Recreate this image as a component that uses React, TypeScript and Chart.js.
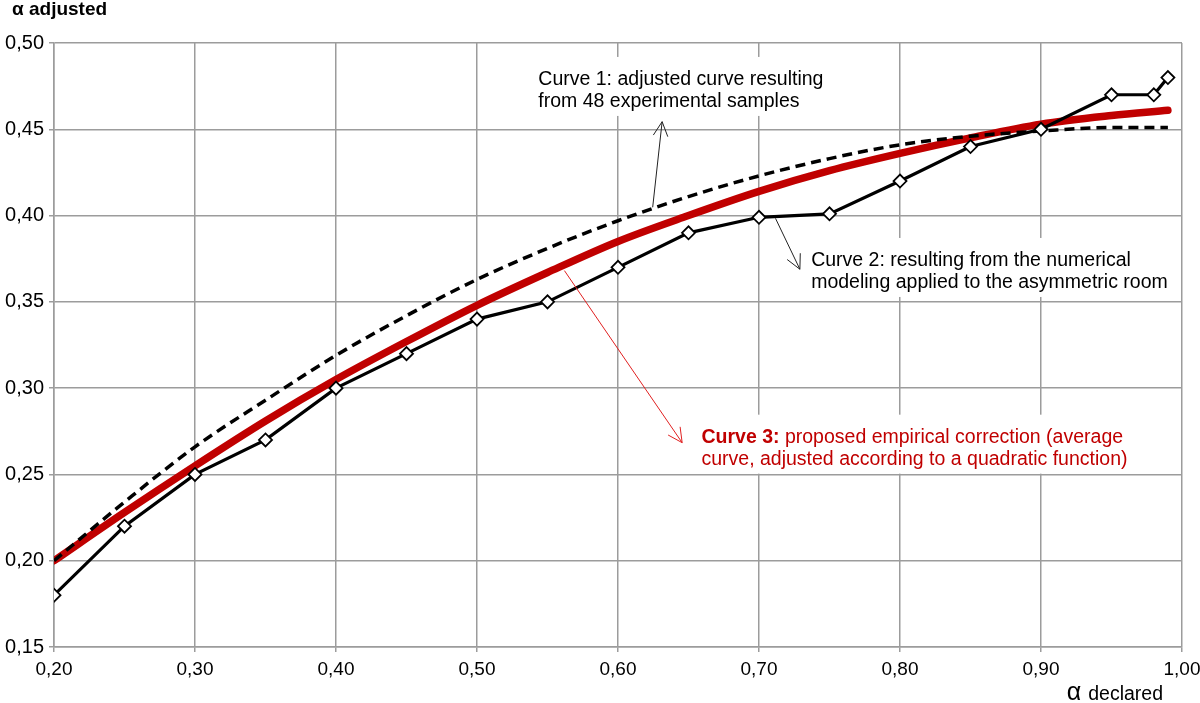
import React, { useEffect, useRef } from "react";
import { Chart, registerables } from "chart.js";

Chart.register(...registerables);

// ---- Data ----
const xCurve2 = [0.2, 0.25, 0.3, 0.35, 0.4, 0.45, 0.5, 0.55, 0.6, 0.65, 0.7, 0.75, 0.8, 0.85, 0.9, 0.95, 0.98, 0.99];
const yCurve2 = [0.18, 0.22, 0.25, 0.27, 0.3, 0.32, 0.34, 0.35, 0.37, 0.39, 0.399, 0.401, 0.42, 0.44, 0.45, 0.47, 0.47, 0.48];

const xFit = [0.2, 0.25, 0.3, 0.35, 0.4, 0.45, 0.5, 0.55, 0.6, 0.65, 0.7, 0.75, 0.8, 0.85, 0.9, 0.95, 0.99];
const yCurve1 = [0.2, 0.234, 0.266, 0.293, 0.319, 0.342, 0.363, 0.381, 0.397, 0.411, 0.423, 0.433, 0.441, 0.446, 0.449, 0.451, 0.451];
const yCurve3 = [0.2, 0.228, 0.255, 0.281, 0.305, 0.327, 0.348, 0.367, 0.385, 0.4, 0.414, 0.426, 0.436, 0.445, 0.453, 0.458, 0.461];

const xTickValues = [0.2, 0.3, 0.4, 0.5, 0.6, 0.7, 0.8, 0.9, 1.0];
const yTickValues = [0.15, 0.2, 0.25, 0.3, 0.35, 0.4, 0.45, 0.5];

const yAxisTitle = "α adjusted";
const xAxisTitleSymbol = "α";
const xAxisTitleWord = "declared";

const note1Lines = ["Curve 1: adjusted curve resulting", "from 48 experimental samples"];
const note2Lines = ["Curve 2: resulting from the numerical", "modeling applied to the asymmetric room"];
const note3Bold = "Curve 3:";
const note3Lines = [" proposed empirical correction (average", "curve, adjusted according to a quadratic function)"];

// annotation anchors in data units: [x, y]
const note1Anchor = [0.5435, 0.4757];
const note2Anchor = [0.737, 0.3708];
const note3Anchor = [0.6592, 0.2684];
const arrow1 = [[0.6246, 0.4048], [0.6313, 0.4544]];
const arrow2 = [[0.7117, 0.3984], [0.729, 0.3689]];
const arrow3 = [[0.562, 0.3681], [0.6455, 0.2684]];

const FONT = "'Liberation Sans', Arial, Helvetica, sans-serif";
const RED = "#c00000";
const GRID = "#9c9c9c";

function fmt(v: number) {
  return Number(v).toFixed(2).replace(".", ",");
}

const notesPlugin = {
  id: "notes",
  beforeDatasetsDraw(chart: any) {
    const ctx = chart.ctx;
    const xs = chart.scales.x;
    const ys = chart.scales.y;
    const boxes = [
      { a: note1Anchor, lines: note1Lines, bold: "" },
      { a: note2Anchor, lines: note2Lines, bold: "" },
      { a: note3Anchor, lines: note3Lines, bold: note3Bold },
    ];
    ctx.save();
    for (const b of boxes) {
      const px = xs.getPixelForValue(b.a[0]);
      const py = ys.getPixelForValue(b.a[1]);
      let w = 0;
      b.lines.forEach((l: string, i: number) => {
        ctx.font = `19.5px ${FONT}`;
        let lw = ctx.measureText(l).width;
        if (i === 0 && b.bold) {
          ctx.font = `bold 19.5px ${FONT}`;
          lw += ctx.measureText(b.bold).width;
        }
        w = Math.max(w, lw);
      });
      ctx.fillStyle = "#ffffff";
      ctx.fillRect(px - 10, py - 28, w + 20, 22 * (b.lines.length - 1) + 37);
    }
    ctx.restore();
  },
  afterDatasetsDraw(chart: any) {
    const ctx = chart.ctx;
    const xs = chart.scales.x;
    const ys = chart.scales.y;
    const P = (p: number[]) => [xs.getPixelForValue(p[0]), ys.getPixelForValue(p[1])];

    const drawArrow = (ar: number[][], color: string) => {
      const [x0, y0] = P(ar[0]);
      const [x1, y1] = P(ar[1]);
      ctx.save();
      ctx.strokeStyle = color;
      ctx.lineWidth = 1;
      ctx.beginPath();
      ctx.moveTo(x0, y0);
      ctx.lineTo(x1, y1);
      const ang = Math.atan2(y0 - y1, x0 - x1);
      const len = 16;
      const half = (27 * Math.PI) / 180;
      ctx.moveTo(x1 + len * Math.cos(ang - half), y1 + len * Math.sin(ang - half));
      ctx.lineTo(x1, y1);
      ctx.lineTo(x1 + len * Math.cos(ang + half), y1 + len * Math.sin(ang + half));
      ctx.stroke();
      ctx.restore();
    };
    drawArrow(arrow1, "#222222");
    drawArrow(arrow2, "#222222");
    drawArrow(arrow3, "#e02020");

    ctx.save();
    ctx.textBaseline = "alphabetic";
    ctx.textAlign = "left";
    const drawLines = (a: number[], lines: string[], color: string, bold: string) => {
      const [px, py] = P(a);
      ctx.fillStyle = color;
      lines.forEach((l, i) => {
        let x = px;
        if (i === 0 && bold) {
          ctx.font = `bold 19.5px ${FONT}`;
          ctx.fillText(bold, x, py);
          x += ctx.measureText(bold).width;
        }
        ctx.font = `19.5px ${FONT}`;
        ctx.fillText(l, x, py + i * 22);
      });
    };
    drawLines(note1Anchor, note1Lines, "#000000", "");
    drawLines(note2Anchor, note2Lines, "#000000", "");
    drawLines(note3Anchor, note3Lines, RED, note3Bold);
    ctx.restore();
  },
  afterDraw(chart: any) {
    const ctx = chart.ctx;
    const area = chart.chartArea;
    ctx.save();
    ctx.fillStyle = "#000000";
    ctx.textAlign = "left";
    ctx.textBaseline = "alphabetic";
    ctx.font = `bold 19px ${FONT}`;
    ctx.fillText(yAxisTitle, area.left - 42, area.top - 28);
    ctx.font = `19.5px ${FONT}`;
    const ww = ctx.measureText(xAxisTitleWord).width;
    const wx = area.right - 19 - ww;
    ctx.fillText(xAxisTitleWord, wx, chart.height - 3);
    ctx.font = `25px ${FONT}`;
    const aw = ctx.measureText(xAxisTitleSymbol).width;
    ctx.fillText(xAxisTitleSymbol, wx - 7 - aw, chart.height - 3);
    ctx.restore();
  },
};

export default function App() {
  const ref = useRef<HTMLCanvasElement | null>(null);

  useEffect(() => {
    if (!ref.current) return;
    const chart = new Chart(ref.current, {
      type: "line",
      data: {
        datasets: [
          {
            label: "Curve 2",
            data: xCurve2.map((x, i) => ({ x, y: yCurve2[i] })),
            borderColor: "#000000",
            borderWidth: 3.2,
            pointStyle: "rectRot",
            pointRadius: 6.5,
            pointBorderWidth: 1.8,
            pointBackgroundColor: "#ffffff",
            pointBorderColor: "#000000",
            tension: 0,
            order: 0,
          },
          {
            label: "Curve 1",
            data: xFit.map((x, i) => ({ x, y: yCurve1[i] })),
            borderColor: "#000000",
            borderWidth: 3.5,
            borderDash: [10, 6],
            pointRadius: 0,
            cubicInterpolationMode: "monotone",
            order: 1,
          },
          {
            label: "Curve 3",
            data: xFit.map((x, i) => ({ x, y: yCurve3[i] })),
            borderColor: RED,
            borderWidth: 7.5,
            pointRadius: 0,
            cubicInterpolationMode: "monotone",
            borderCapStyle: "round",
            order: 2,
          },
        ],
      },
      options: {
        animation: false,
        responsive: false,
        devicePixelRatio: 1,
        layout: { padding: { top: 43, right: 18, left: 0, bottom: 0 } },
        plugins: {
          legend: { display: false },
          tooltip: { enabled: false },
        },
        scales: {
          x: {
            type: "linear",
            min: 0.2,
            max: 1.0,
            afterBuildTicks: (s: any) => {
              s.ticks = xTickValues.map((v) => ({ value: v }));
            },
            afterFit: (s: any) => {
              s.height = 56;
              s.paddingLeft = 0;
              s.paddingRight = 0;
            },
            ticks: {
              callback: (v: any) => fmt(v),
              color: "#000000",
              font: { family: FONT, size: 19 },
              padding: 6,
              maxRotation: 0,
              autoSkip: false,
            },
            grid: { color: GRID, lineWidth: 1.5, tickLength: 5, tickColor: GRID },
            border: { color: GRID, width: 1.5 },
          },
          y: {
            type: "linear",
            min: 0.15,
            max: 0.5,
            afterBuildTicks: (s: any) => {
              s.ticks = yTickValues.map((v) => ({ value: v }));
            },
            afterFit: (s: any) => {
              s.width = 54;
              s.paddingTop = 0;
              s.paddingBottom = 0;
            },
            ticks: {
              callback: (v: any) => fmt(v),
              color: "#000000",
              font: { family: FONT, size: 20 },
              padding: 5,
              autoSkip: false,
            },
            grid: { color: GRID, lineWidth: 1.5, tickLength: 5, tickColor: GRID },
            border: { color: GRID, width: 1.5 },
          },
        },
      },
      plugins: [notesPlugin],
    } as any);
    return () => chart.destroy();
  }, []);

  return (
    <div style={{ position: "fixed", left: 0, top: 0, width: 1200, height: 703, background: "#ffffff" }}>
      <canvas ref={ref} width={1200} height={703} style={{ display: "block" }} />
    </div>
  );
}
